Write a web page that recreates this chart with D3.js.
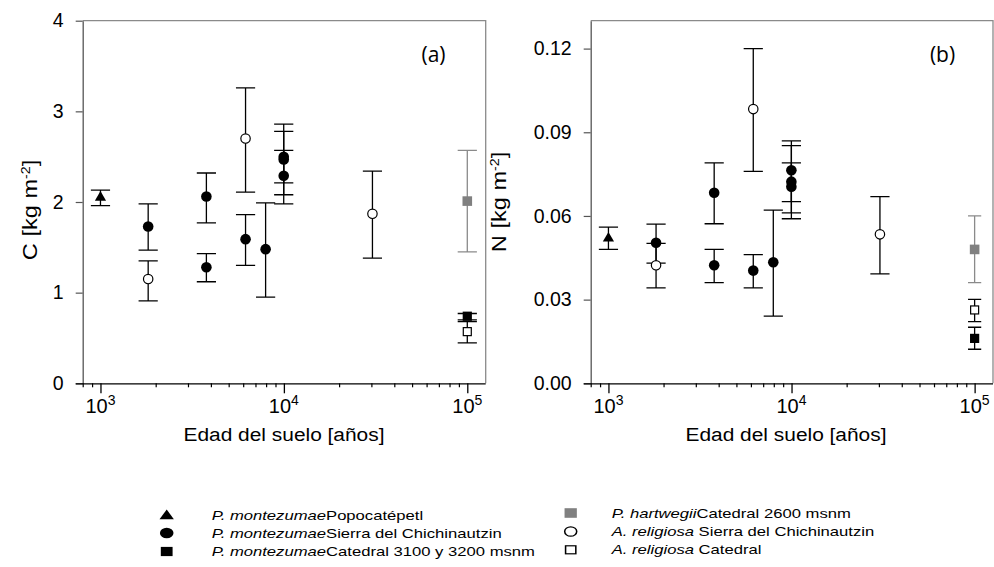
<!DOCTYPE html>
<html><head><meta charset="utf-8">
<script src="https://cdn.jsdelivr.net/npm/d3@7"></script>
<style>body{margin:0;background:#fff}svg{display:block}</style>
</head><body>
<svg id="chart" width="994" height="567"></svg>
<script>
// ---------------- DATA ----------------
const xTickLabels = ["3", "4", "5"];             // exponents of 10
const cTicks = [0, 1, 2, 3, 4];
const nTicks = [0.00, 0.03, 0.06, 0.09, 0.12];

// P. montezumae Popocatépetl (triangle)
const triAge = [1000];
const triC = [2.06], triCLo = [1.96], triCHi = [2.13];
const triN = [0.0523], triNLo = [0.048], triNHi = [0.056];

// P. montezumae Sierra del Chichinautzin (filled circle)
const pmsAge = [1820, 3780, 3780, 6180, 7950, 9980, 9980, 9980];
const pmsC   = [1.73, 2.06, 1.28, 1.59, 1.48, 2.50, 2.47, 2.29];
const pmsCLo = [1.47, 1.77, 1.12, 1.30, 0.95, 2.21, 2.08, 1.98];
const pmsCHi = [1.98, 2.32, 1.43, 1.86, 1.99, 2.86, 2.78, 2.57];
const pmsN   = [0.0504, 0.0683, 0.0423, 0.0404, 0.0434, 0.0764, 0.0723, 0.0705];
const pmsNLo = [0.0431, 0.0572, 0.0361, 0.0342, 0.0241, 0.0651, 0.0611, 0.0590];
const pmsNHi = [0.0571, 0.0790, 0.0480, 0.0461, 0.0621, 0.0869, 0.0852, 0.0790];

// P. montezumae Catedral 3100 y 3200 msnm (filled square)
const pmcAge = [100000];
const pmcC = [0.74], pmcCLo = [0.70], pmcCHi = [0.77];
const pmcN = [0.0161], pmcNLo = [0.0122], pmcNHi = [0.0201];

// P. hartwegii Catedral 2600 msnm (grey square)
const phAge = [100000];
const phC = [2.01], phCLo = [1.45], phCHi = [2.57];
const phN = [0.0480], phNLo = [0.0361], phNHi = [0.0600];

// A. religiosa Sierra del Chichinautzin (open circle)
const arsAge = [1820, 6180, 30400];
const arsC   = [1.15, 2.70, 1.87];
const arsCLo = [0.91, 2.11, 1.38];
const arsCHi = [1.35, 3.26, 2.34];
const arsN   = [0.0423, 0.0983, 0.0534];
const arsNLo = [0.0342, 0.0760, 0.0392];
const arsNHi = [0.0502, 0.1200, 0.0669];

// A. religiosa Catedral (open square)
const arcAge = [100000];
const arcC = [0.57], arcCLo = [0.445], arcCHi = [0.68];
const arcN = [0.0263], arcNLo = [0.0221], arcNHi = [0.0301];

const legItalic = ["P. montezumae", "P. montezumae", "P. montezumae", "P. hartwegii", "A. religiosa ", "A. religiosa "];
const legRest   = ["Popocatépetl", "Sierra del Chichinautzin", "Catedral 3100 y 3200 msnm", "Catedral 2600 msnm", "Sierra del Chichinautzin", "Catedral"];
const legSym    = ["tri", "fcirc", "fsq", "gsq", "ocirc", "osq"];

// ---------------- DRAWING ----------------
const svg = d3.select("#chart");
const FONT = "'Liberation Sans', Arial, sans-serif";
const GREY = "#8a8a8a";

function series(sym, age, vC, loC, hiC, vN, loN, hiN) {
  return {sym, pts: age.map((a, i) => ({age: a,
    C: {v: vC[i], lo: loC[i], hi: hiC[i]},
    N: {v: vN[i], lo: loN[i], hi: hiN[i]}}))};
}
const allSeries = [
  series("tri", triAge, triC, triCLo, triCHi, triN, triNLo, triNHi),
  series("fcirc", pmsAge, pmsC, pmsCLo, pmsCHi, pmsN, pmsNLo, pmsNHi),
  series("ocirc", arsAge, arsC, arsCLo, arsCHi, arsN, arsNLo, arsNHi),
  series("gsq", phAge, phC, phCLo, phCHi, phN, phNLo, phNHi),
  series("fsq", pmcAge, pmcC, pmcCLo, pmcCHi, pmcN, pmcNLo, pmcNHi),
  series("osq", arcAge, arcC, arcCLo, arcCHi, arcN, arcNLo, arcNHi)
];

function drawSymbol(g, sym, cx, cy, sx) {
  sx = sx || 1;
  const gg = g.append("g").attr("transform", `translate(${cx},${cy}) scale(${sx},1)`);
  if (sym === "tri") {
    gg.append("path").attr("d", "M0,-5.5L5.6,4.2L-5.6,4.2Z").attr("fill", "#000");
  } else if (sym === "fcirc") {
    gg.append("circle").attr("r", 5.3).attr("fill", "#000");
  } else if (sym === "ocirc") {
    gg.append("circle").attr("r", 4.7).attr("fill", "#fff").attr("stroke", "#000").attr("stroke-width", 1.2);
  } else if (sym === "fsq") {
    gg.append("rect").attr("x", -4.6).attr("y", -4.6).attr("width", 9.2).attr("height", 9.2).attr("fill", "#000");
  } else if (sym === "gsq") {
    gg.append("rect").attr("x", -4.8).attr("y", -4.8).attr("width", 9.6).attr("height", 9.6).attr("fill", "#808080");
  } else if (sym === "osq") {
    gg.append("rect").attr("x", -4).attr("y", -4).attr("width", 8).attr("height", 8).attr("fill", "#fff").attr("stroke", "#000").attr("stroke-width", 1.2);
  }
}

function panel(opt) {
  const x = d3.scaleLog().domain([800, 126000]).range([opt.x0, opt.x1]);
  const y = d3.scaleLinear().domain(opt.yDomain).range([383.3, 20.7]);
  const g = svg.append("g");

  // frame (top + right)
  g.append("path").attr("d", `M${opt.x0},20.7H${opt.x1}V383.3`).attr("fill", "none").attr("stroke", GREY).attr("stroke-width", 1.3);

  // y axis
  const ya = g.append("g").attr("transform", `translate(${opt.x0},0)`)
    .call(d3.axisLeft(y).tickValues(opt.yTicks).tickSize(7).tickSizeOuter(0).tickPadding(12).tickFormat(opt.yFmt));
  ya.select(".domain").attr("stroke", "#555").attr("stroke-width", 1.3);
  ya.selectAll(".tick line").attr("stroke", "#555").attr("stroke-width", 1.2);
  ya.selectAll(".tick text").attr("font-family", FONT).attr("font-size", 19.5).attr("fill", "#000");

  // x axis minor ticks
  const minor = [];
  for (let e = 2; e <= 4; e++) for (let m = 2; m <= 9; m++) { const v = m * Math.pow(10, e); if (v >= 800 && v <= 126000) minor.push(v); }
  const xm = g.append("g").attr("transform", "translate(0,383.3)")
    .call(d3.axisBottom(x).tickValues(minor).tickSize(4).tickSizeOuter(0).tickFormat(""));
  xm.select(".domain").remove();
  xm.selectAll(".tick line").attr("stroke", "#000").attr("stroke-width", 1.2);
  const majors = xTickLabels.map(e => Math.pow(10, +e));
  const xa = g.append("g").attr("transform", "translate(0,383.3)")
    .call(d3.axisBottom(x).tickValues(majors).tickSize(10).tickSizeOuter(0).tickFormat(""));
  xa.select(".domain").attr("stroke", "#000").attr("stroke-width", 1.3).attr("d", `M${opt.x0 - 7},0.5H${opt.x1}`);
  xa.selectAll(".tick line").attr("stroke", "#000").attr("stroke-width", 1.3);
  // tick labels 10^n
  xTickLabels.forEach(e => {
    const t = g.append("text").attr("x", x(Math.pow(10, +e))).attr("y", 413)
      .attr("text-anchor", "middle").attr("font-family", FONT).attr("font-size", 20).attr("fill", "#000");
    t.append("tspan").text("10");
    t.append("tspan").attr("dy", -8).attr("font-size", 14).text(e);
  });

  // x title (slightly wide lettering as in the reference)
  g.append("text").attr("transform", `translate(${opt.xTitleX},441) scale(1.1,1)`).attr("text-anchor", "middle")
    .attr("font-family", FONT).attr("font-size", 19).text("Edad del suelo [años]");

  // y title
  const yt = g.append("text").attr("transform", `translate(${opt.yTitleX},${opt.yTitleY}) rotate(-90) scale(1.18,1)`)
    .attr("text-anchor", "middle").attr("font-family", FONT).attr("font-size", 20);
  yt.append("tspan").text(opt.yTitle + " [kg m");
  yt.append("tspan").attr("dy", -7).attr("font-size", 12).text("-2");
  yt.append("tspan").attr("dy", 7).text("]");

  // panel letter
  g.append("text").attr("x", opt.letterX).attr("y", 62).attr("text-anchor", "middle")
    .attr("font-family", "'Open Sans', sans-serif").attr("font-size", 21).text(opt.letter);

  // error bars + symbols
  const key = opt.key;
  allSeries.forEach(s => {
    const col = s.sym === "gsq" ? GREY : "#000";
    s.pts.forEach(p => {
      const cx = x(p.age);
      const cap = (opt.key === "N" && p.age >= 100000) ? 6.6 : 9.6;
      const d = p[key];
      g.append("path")
        .attr("d", `M${cx},${y(d.lo)}V${y(d.hi)}M${cx - cap},${y(d.lo)}H${cx + cap}M${cx - cap},${y(d.hi)}H${cx + cap}`)
        .attr("fill", "none").attr("stroke", col).attr("stroke-width", 1.3);
    });
  });
  allSeries.forEach(s => {
    s.pts.forEach(p => drawSymbol(g, s.sym, x(p.age), y(p[key].v)));
  });
}

panel({key: "C", x0: 82.7, x1: 485.7, yDomain: [0, 4], yTicks: cTicks, yFmt: d3.format("d"),
  xTitleX: 284, yTitle: "C", yTitleX: 37, yTitleY: 210, letter: "(a)", letterX: 433.5});
panel({key: "N", x0: 590.7, x1: 993, yDomain: [0, 0.13], yTicks: nTicks, yFmt: d3.format(".2f"),
  xTitleX: 786, yTitle: "N", yTitleX: 506, yTitleY: 202, letter: "(b)", letterX: 942.5});

// ---------------- LEGEND ----------------
const legCols = [{mx: 166.7, tx: 211.7, ys: [515, 533, 551.5]}, {mx: 570.7, tx: 611.7, ys: [513, 531.5, 549.8]}];
const SX = 1.28;
legSym.forEach((sym, i) => {
  const col = legCols[Math.floor(i / 3)];
  const cy = col.ys[i % 3];
  drawSymbol(svg, sym, col.mx, cy, SX);
  const t = svg.append("text").attr("transform", `translate(${col.tx},${cy + 4.6}) scale(${SX},1)`)
    .attr("font-family", FONT).attr("font-size", 13).attr("fill", "#000");
  t.append("tspan").attr("font-style", "italic").text(legItalic[i]);
  t.append("tspan").text(legRest[i]);
});
</script>
</body></html>
